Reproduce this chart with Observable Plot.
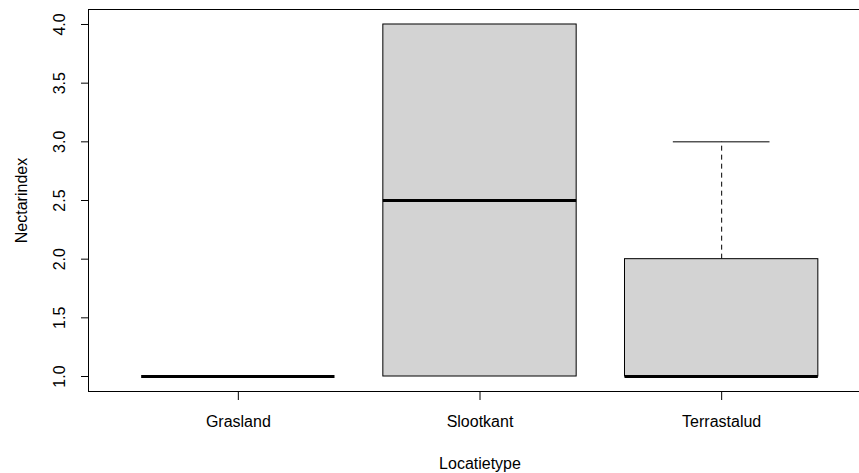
<!DOCTYPE html>
<html>
<head>
<meta charset="utf-8">
<script src="https://cdn.jsdelivr.net/npm/d3@7"></script>
<script src="https://cdn.jsdelivr.net/npm/@observablehq/plot@0.6"></script>
<style>
  html, body { margin: 0; padding: 0; background: #fff; overflow: hidden; }
  #chart { width: 872px; }
  #chart svg { display: block; max-width: none !important; width: 872px; height: 473px; font-family: "Liberation Sans", Arial, sans-serif; }
</style>
</head>
<body>
<div id="chart"></div>
<script>
// Data
const categories = ["Grasland", "Slootkant", "Terrastalud"];
const lowerWhisker = [1, 1, 1];
const q1 = [1, 1, 1];
const median = [1, 2.5, 1];
const q3 = [1, 4, 2];
const upperWhisker = [1, 4, 3];
const yTicks = [1.0, 1.5, 2.0, 2.5, 3.0, 3.5, 4.0];
const xLabel = "Locatietype";
const yLabel = "Nectarindex";

const boxes = categories.map((c, i) => ({
  pos: i + 1, name: c,
  lo: lowerWhisker[i], q1: q1[i], med: median[i], q3: q3[i], hi: upperWhisker[i]
}));

const halfBox = 0.4;   // R boxwex 0.8
const halfStaple = 0.2; // staplewex 0.5

const upper = boxes.filter(d => d.hi > d.q3);
const lower = boxes.filter(d => d.lo < d.q1);

const chart = Plot.plot({
  width: 872,
  height: 473,
  marginLeft: 88,
  marginRight: 1,
  marginTop: 9,
  marginBottom: 82,
  style: { fontSize: "16px", fontFamily: "Liberation Sans, Arial, sans-serif", background: "#fff", color: "#000", maxWidth: "none" },
  x: { type: "linear", domain: [0.38, 3.62] },
  y: { type: "linear", domain: [0.8722, 4.1278] },
  marks: [
    // whiskers (dashed)
    Plot.ruleX(upper, { x: "pos", y1: "q3", y2: "hi", stroke: "#000", strokeWidth: 1, strokeDasharray: "5,4" }),
    Plot.ruleX(lower, { x: "pos", y1: "lo", y2: "q1", stroke: "#000", strokeWidth: 1, strokeDasharray: "5,4" }),
    // staples
    Plot.ruleY(upper, { y: "hi", x1: d => d.pos - halfStaple, x2: d => d.pos + halfStaple, stroke: "#000" }),
    Plot.ruleY(lower, { y: "lo", x1: d => d.pos - halfStaple, x2: d => d.pos + halfStaple, stroke: "#000" }),
    // boxes
    Plot.rect(boxes, { x1: d => d.pos - halfBox, x2: d => d.pos + halfBox, y1: "q1", y2: "q3", fill: "#d3d3d3", stroke: "#000", strokeWidth: 1 }),
    // medians
    Plot.ruleY(boxes, { y: "med", x1: d => d.pos - halfBox, x2: d => d.pos + halfBox, stroke: "#000", strokeWidth: 3, strokeLinecap: "butt" }),
    // frame
    Plot.frame({ stroke: "#000", strokeWidth: 1 }),
    // y axis ticks
    Plot.axisY(yTicks, { tickSize: 7, tickFormat: () => "", label: null }),
    // y tick labels (rotated like R)
    Plot.text(yTicks, { y: d => d, text: d => d.toFixed(1), frameAnchor: "left", dx: -29, rotate: -90, textAnchor: "middle", lineAnchor: "middle", fontSize: 16, fill: "#000" }),
    // x axis
    Plot.axisX(boxes.map(d => d.pos), { tickSize: 9, tickPadding: 15, tickFormat: v => categories[v - 1], label: null, fontSize: 16 }),
    // axis titles
    Plot.text([xLabel], { frameAnchor: "bottom", dy: 72, text: d => d, textAnchor: "middle", lineAnchor: "middle", fontSize: 16, fill: "#000" }),
    Plot.text([yLabel], { frameAnchor: "left", dx: -67, text: d => d, rotate: -90, textAnchor: "middle", lineAnchor: "middle", fontSize: 16, fill: "#000" })
  ]
});
document.getElementById("chart").appendChild(chart);
</script>
</body>
</html>
